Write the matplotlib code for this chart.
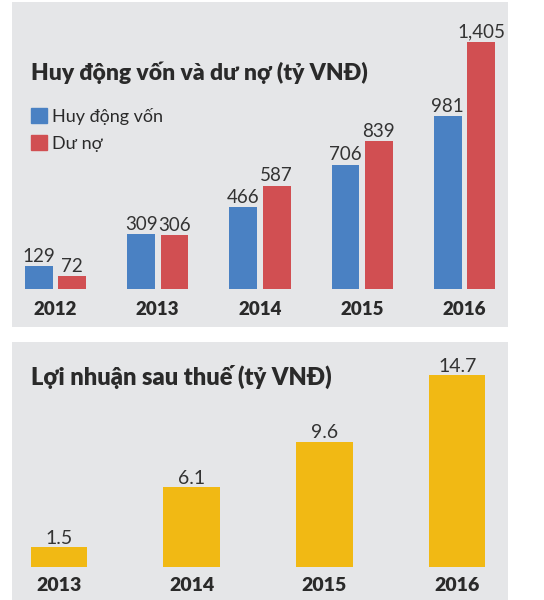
import matplotlib
matplotlib.use("Agg")
import matplotlib.pyplot as plt
from matplotlib.patches import Patch

# data
years_top = ["2012", "2013", "2014", "2015", "2016"]
huy_dong = [129, 309, 466, 706, 981]
du_no = [72, 306, 587, 839, 1405]
years_bot = ["2013", "2014", "2015", "2016"]
loi_nhuan = [1.5, 6.1, 9.6, 14.7]

title_top = "Huy động vốn và dư nợ (tỷ VNĐ)"
title_bot = "Lợi nhuận sau thuế (tỷ VNĐ)"
legend_labels = ["Huy động vốn", "Dư nợ"]

BLUE = "#4a81c3"
RED = "#d14f52"
GOLD = "#f1b914"
BG = "#e5e6e8"
TXT = "#2a2a2a"

W, H = 544, 600
plt.rcParams['font.family'] = ['Lato', 'Open Sans', 'DejaVu Sans']

fig = plt.figure(figsize=(W / 100, H / 100), dpi=100)


def px_axes(left, top, right, bottom):
    ax = fig.add_axes([left / W, 1 - bottom / H, (right - left) / W, (bottom - top) / H])
    ax.set_facecolor(BG)
    for s in ax.spines.values():
        s.set_visible(False)
    ax.set_xticks([])
    ax.set_yticks([])
    return ax


def fmt(v):
    return f"{v:,}"


# ---- top panel: deposits and loans ----
ax1 = px_axes(12, 2, 508, 327)
scale = 247 / 1405          # px per unit
base = 327 - 288.7          # baseline px above axes bottom
ax1.set_ylim(-base / scale, (325 - base) / scale)
ax1.set_xlim(-0.4254, 4.4254)
bw, off = 0.271, 0.163
for i, yr in enumerate(years_top):
    ax1.bar(i - off, huy_dong[i], bw, color=BLUE)
    ax1.bar(i + off, du_no[i], bw, color=RED)
    ax1.annotate(fmt(huy_dong[i]), (i - off, huy_dong[i]), xytext=(0, 3),
                 textcoords="offset points", ha="center", va="baseline",
                 fontsize=13.5, color="#333333")
    ax1.annotate(fmt(du_no[i]), (i + off, du_no[i]), xytext=(0, 3),
                 textcoords="offset points", ha="center", va="baseline",
                 fontsize=13.5, color="#333333")
    ax1.annotate(yr, (i, 0), xytext=(0, -26.4 * 72 / 100),
                 textcoords="offset points", ha="center", va="baseline",
                 fontsize=13.5, fontweight="heavy", color=TXT)

fig.text(31 / W, 1 - 80 / H, title_top, fontsize=16.5, fontweight="heavy",
         color=TXT, ha="left", va="baseline")

handles = [Patch(color=BLUE), Patch(color=RED)]
fig.legend(handles, legend_labels, loc="upper left",
           bbox_to_anchor=(30.7 / W, 1 - 108 / H), frameon=False,
           fontsize=13, handlelength=0.89, handleheight=0.89,
           handletextpad=0.3, labelspacing=0.55, borderpad=0,
           borderaxespad=0, labelcolor=TXT)

# ---- bottom panel: profit after tax ----
ax2 = px_axes(12, 342, 508, 600)
scale2 = 191.7 / 14.7
base2 = 600 - 566.7
ax2.set_ylim(-base2 / scale2, (258 - base2) / scale2)
ax2.set_xlim(-0.354, 3.383)
for i, yr in enumerate(years_bot):
    ax2.bar(i, loi_nhuan[i], 0.426, color=GOLD)
    ax2.annotate(f"{loi_nhuan[i]}", (i, loi_nhuan[i]), xytext=(0, 2.5),
                 textcoords="offset points", ha="center", va="baseline",
                 fontsize=14, color="#333333")
    ax2.annotate(yr, (i, 0), xytext=(0, -24.3 * 72 / 100),
                 textcoords="offset points", ha="center", va="baseline",
                 fontsize=14, fontweight="heavy", color=TXT)

fig.text(31 / W, 1 - 385 / H, title_bot, fontsize=17, fontweight="heavy",
         color=TXT, ha="left", va="baseline")

fig.savefig("out.png", dpi=100)
